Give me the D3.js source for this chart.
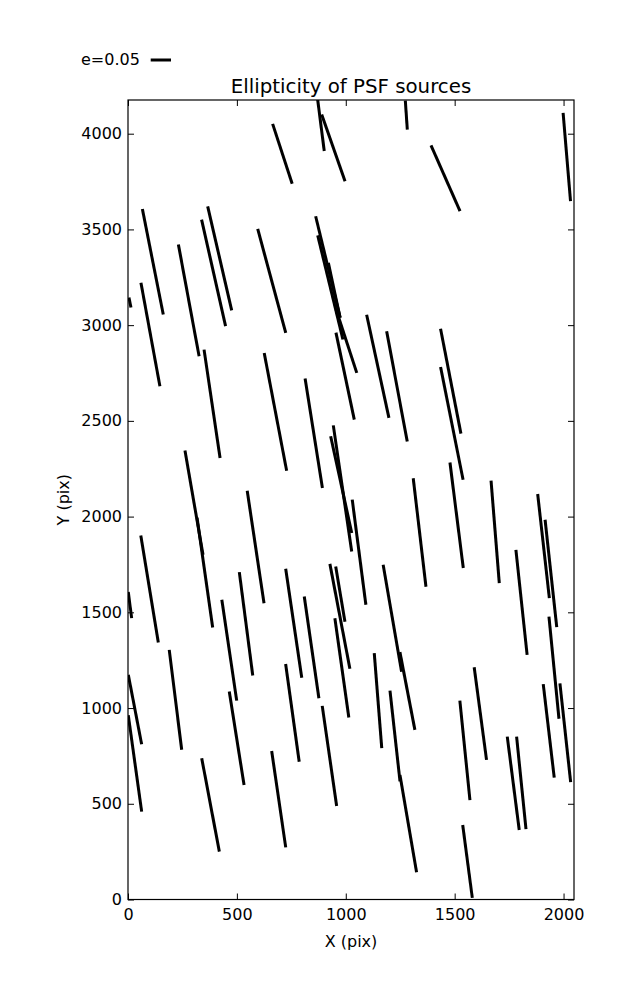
<!DOCTYPE html>
<html>
<head>
<meta charset="utf-8">
<script src="https://cdn.jsdelivr.net/npm/d3@7"></script>
<style>
  html, body { margin: 0; padding: 0; background: #fff; }
  svg { display: block; }
  text { font-family: "DejaVu Sans", sans-serif; fill: #000; }
</style>
</head>
<body>
<div id="chart"></div>
<script>
// ---- data (source position in detector pixels, ellipticity, position angle in degrees) ----
const srcX = [886, 943, 709, 1278, 1458, 2015, 114, 421, 393, 279, 660,
  918, 929, 947, 1003, 997, 9, 103, 386, 677, 853, 1147, 1235, 1482, 1487,
  303, 353, 586, 99, 542, 761, 985, 979, 973, 975, 982,
  1509, 1339, 1686, 1061, 1214, 1283, 1908, 1942, 1807, 1956, 2008, 1932,
  1769, 1806, 1618, 1547, 1559, 1226, 1287, 1148, 465, 218, 843, 755, 499,
  925, 379, 692, 32, 32, 9];
const srcY = [4044, 3926, 3895, 4097, 3767, 3878, 3331, 3349, 3273, 3129, 3231,
  3304, 3197, 3182, 2916, 2734, 3118, 2951, 2589, 2547, 2435, 2785, 2680, 2707, 2487,
  2073, 1707, 1841, 1622, 1440, 1443, 2147, 2167, 1479, 1595, 1210,
  2007, 1917, 1920, 1814, 1469, 1089, 1846, 1703, 1552, 1211, 871, 881,
  607, 609, 971, 779, 199, 854, 396, 1039, 1302, 1043, 1317, 975, 842,
  750, 494, 524, 992, 711, 1538];
const ellip = [0.128, 0.174, 0.155, 0.072, 0.177, 0.218, 0.265, 0.263, 0.269, 0.280, 0.265,
  0.257, 0.264, 0.138, 0.164, 0.219, 0.025, 0.259, 0.270, 0.295, 0.273, 0.260, 0.276, 0.263, 0.283,
  0.261, 0.273, 0.280, 0.267, 0.257, 0.271, 0.314, 0.244, 0.263, 0.138, 0.247,
  0.262, 0.269, 0.253, 0.261, 0.267, 0.195, 0.258, 0.266, 0.260, 0.253, 0.245, 0.232,
  0.232, 0.229, 0.230, 0.246, 0.181, 0.225, 0.243, 0.235, 0.251, 0.248, 0.253, 0.243, 0.233,
  0.249, 0.234, 0.240, 0.174, 0.240, 0.065];
const angle = [97.3, 109.3, 108.1, 93.9, 113.8, 94.8, 101.2, 103.0, 102.7, 100.5, 105.1,
  103.6, 103.6, 102.1, 108.1, 101.9, 101.3, 100.4, 98.4, 100.8, 99.0, 102.2, 100.6, 101.0, 101.3,
  99.8, 98.1, 98.5, 99.3, 97.4, 98.4, 98.3, 102.3, 100.8, 99.5, 98.0,
  97.2, 96.7, 94.6, 97.4, 99.8, 100.9, 96.4, 96.2, 96.1, 95.6, 96.2, 96.7,
  97.3, 95.8, 97.6, 95.8, 97.5, 96.3, 99.7, 94.5, 98.4, 97.1, 98.2, 97.9, 99.0,
  98.2, 100.7, 98.3, 100.9, 97.9, 97.4];

const xTicks = [0, 500, 1000, 1500, 2000];
const yTicks = [0, 500, 1000, 1500, 2000, 2500, 3000, 3500, 4000];
const xDomain = [0, 2048];
const yDomain = [0, 4176];
const keyE = 0.05;
const titleText = "Ellipticity of PSF sources";
const xLabel = "X (pix)";
const yLabel = "Y (pix)";

// ---- layout ----
const W = 637, H = 1000;
const m = { left: 128, right: 63, top: 100, bottom: 100.5 };
const pw = W - m.left - m.right, ph = H - m.top - m.bottom;

const svg = d3.select("#chart").append("svg").attr("width", W).attr("height", H);

const x = d3.scaleLinear().domain(xDomain).range([m.left, m.left + pw]);
const y = d3.scaleLinear().domain(yDomain).range([m.top + ph, m.top]);
const len = d3.scaleLinear().domain([0, keyE]).range([0, 20.3]);

svg.append("defs").append("clipPath").attr("id", "clip")
  .append("rect").attr("x", m.left).attr("y", m.top).attr("width", pw).attr("height", ph);

const data = srcX.map((d, i) => ({ x: d, y: srcY[i], e: ellip[i], a: angle[i] }));

function ends(d) {
  const cx = x(d.x), cy = y(d.y), h = len(d.e) / 2, r = d.a * Math.PI / 180;
  const ux = Math.cos(r), uy = -Math.sin(r);
  return [cx + h * ux, cy + h * uy, cx - h * ux, cy - h * uy];
}

svg.append("g").attr("clip-path", "url(#clip)")
  .selectAll("line").data(data).join("line")
  .attr("x1", d => ends(d)[0]).attr("y1", d => ends(d)[1])
  .attr("x2", d => ends(d)[2]).attr("y2", d => ends(d)[3])
  .attr("stroke", "#000").attr("stroke-width", 3).attr("stroke-linecap", "butt");

// ---- axes (matplotlib classic: ticks inside, on all sides) ----
const tl = 6;
const fs = 16;
const axBottom = svg.append("g").attr("transform", `translate(0,${m.top + ph})`)
  .call(d3.axisBottom(x).tickValues(xTicks).tickSize(-tl).tickPadding(9).tickFormat(d3.format("d")));
const axTop = svg.append("g").attr("transform", `translate(0,${m.top})`)
  .call(d3.axisTop(x).tickValues(xTicks).tickSize(-tl).tickFormat(""));
const axLeft = svg.append("g").attr("transform", `translate(${m.left},0)`)
  .call(d3.axisLeft(y).tickValues(yTicks).tickSize(-tl).tickPadding(6).tickFormat(d3.format("d")));
const axRight = svg.append("g").attr("transform", `translate(${m.left + pw},0)`)
  .call(d3.axisRight(y).tickValues(yTicks).tickSize(-tl).tickFormat(""));

[axBottom, axTop, axLeft, axRight].forEach(g => {
  g.select(".domain").remove();
  g.selectAll(".tick line").attr("stroke", "#000").attr("stroke-width", 1);
  g.selectAll("text").attr("font-size", fs).attr("font-family", "DejaVu Sans").attr("fill", "#000");
});
axBottom.selectAll("text").attr("dy", "0.71em");

svg.append("rect").attr("x", m.left).attr("y", m.top).attr("width", pw).attr("height", ph)
  .attr("fill", "none").attr("stroke", "#000").attr("stroke-width", 1.2);

// ---- labels ----
svg.append("text").attr("x", m.left + pw / 2).attr("y", 93).attr("text-anchor", "middle")
  .attr("font-size", 19.8).text(titleText);
svg.append("text").attr("x", m.left + pw / 2).attr("y", 947).attr("text-anchor", "middle")
  .attr("font-size", fs).text(xLabel);
svg.append("text").attr("transform", `translate(69,${m.top + ph / 2}) rotate(-90)`)
  .attr("text-anchor", "middle").attr("font-size", fs).text(yLabel);

// ---- key ----
svg.append("text").attr("x", 81).attr("y", 65).attr("font-size", fs).text("e=" + keyE.toFixed(2));
svg.append("line").attr("x1", 150.7).attr("x2", 150.7 + len(keyE)).attr("y1", 60).attr("y2", 60)
  .attr("stroke", "#000").attr("stroke-width", 3);
</script>
</body>
</html>
